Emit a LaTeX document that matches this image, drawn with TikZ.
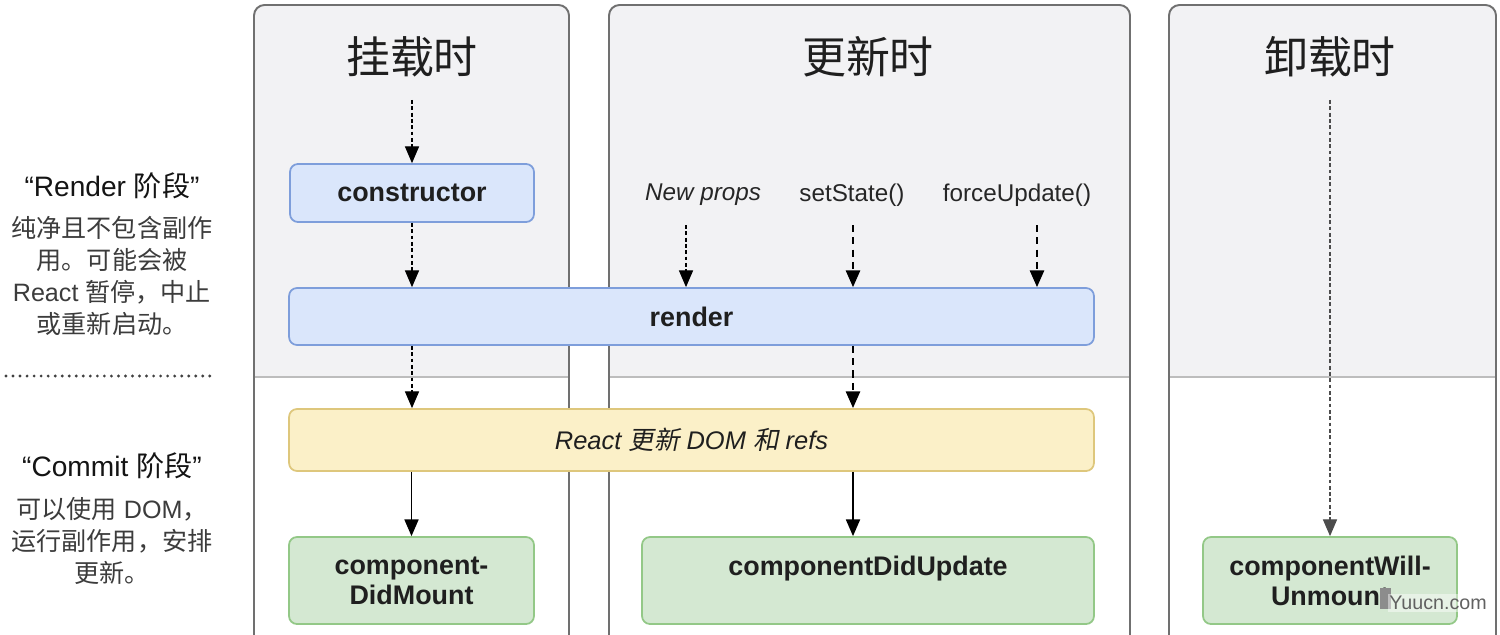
\documentclass[tikz,border=0pt]{standalone}
\usepackage{fontspec}
\setmainfont{Liberation Sans}
\newfontfamily\cjk{Noto Sans CJK SC}
\newfontfamily\cjkit[FakeSlant=0.2]{Noto Sans CJK SC}
\usetikzlibrary{arrows.meta}
\definecolor{panelbg}{HTML}{F2F2F4}
\definecolor{lanegray}{HTML}{707070}
\definecolor{sepgray}{HTML}{BDBDBD}
\definecolor{bluefill}{HTML}{DAE6FB}
\definecolor{blueline}{HTML}{7E9EDB}
\definecolor{yellowfill}{HTML}{FBF0C8}
\definecolor{yellowline}{HTML}{DEC77C}
\definecolor{greenfill}{HTML}{D4E8D2}
\definecolor{greenline}{HTML}{93C887}
\definecolor{notegray}{HTML}{3C3C3C}
\newcommand\mypanel[2]{%
  \fill[panelbg] (#1,377) [rounded corners=6pt] -- (#1,5) -- (#2,5) [sharp corners] -- (#2,377) -- cycle;
  \draw[sep] (#1,377) -- (#2,377);
  \draw[lane] (#1,640) [rounded corners=6pt] -- (#1,5) -- (#2,5) [sharp corners] -- (#2,640);
}
\tikzset{
  lane/.style={draw=lanegray, line width=1.1pt},
  sep/.style={draw=sepgray, line width=0.8pt},
  box/.style={rounded corners=4.5pt, line width=1pt, inner sep=0pt, align=center,
    font=\fontsize{15.3}{17}\selectfont\bfseries, text=black!88},
  bluebox/.style={box, fill=bluefill, draw=blueline},
  yellowbox/.style={box, fill=yellowfill, draw=yellowline, font=\fontsize{14.5}{17}\selectfont\itshape},
  greenbox/.style={box, fill=greenfill, draw=greenline},
  tip/.style={-{Triangle[length=9.5pt,width=8pt]}},
  thinflow/.style={tip, line width=0.6pt, dash pattern=on 2.2pt off 1.4pt},
  boldflow/.style={tip, line width=1.3pt, dash pattern=on 4pt off 3pt},
  solidflow/.style={tip, line width=0.9pt},
  title/.style={font=\cjk\fontsize{25}{30}\selectfont, text=black!88},
  trigger/.style={font=\fontsize{13.8}{16}\selectfont, text=black!85},
  phase/.style={font=\fontsize{16}{19}\selectfont, text=black!92},
  note/.style={font=\fontsize{14.3}{18.3}\selectfont, text=notegray, align=center},
}
\begin{document}
\begin{tikzpicture}[x=0.02cm, y=-0.02cm]
\useasboundingbox (0,0) rectangle (1500,635);
\fill[white] (0,0) rectangle (1500,635);

% lanes
\mypanel{254}{569}
\mypanel{609}{1130}
\mypanel{1169}{1496}

% titles
\node[title] (tmount) at (412,57) {挂载时};
\node[title] (tupdate) at (868,57) {更新时};
\node[title] (tunmount) at (1330,57) {卸载时};

% left notes
\node[phase] (renderphase) at (112,186) {“Render {\cjk 阶段}”};
\node[note] (rendernote) at (112,276) {{\cjk 纯净且不包含副作}\\{\cjk 用。可能会被}\\React {\cjk 暂停，中止}\\{\cjk 或重新启动。}};
\coordinate (dotL) at (6,376);
\coordinate (dotR) at (214,376);
\draw[line width=1.8pt, dash pattern=on 0pt off 4pt, line cap=round, black!75] (dotL) -- (dotR);
\node[phase] (commitphase) at (112,466) {“Commit {\cjk 阶段}”};
\node[note] (commitnote) at (112,541) {{\cjk 可以使用} DOM{\cjk ，}\\{\cjk 运行副作用，安排}\\{\cjk 更新。}};

% nodes
\node[bluebox, minimum width=4.88cm, minimum height=1.16cm] (constructor) at (412,193) {constructor};
\node[bluebox, minimum width=16.1cm, minimum height=1.14cm] (render) at (691.5,316.5) {render};
\node[yellowbox, minimum width=16.1cm, minimum height=1.24cm] (reactdom) at (691.5,440) {React {\cjkit 更新} DOM {\cjkit 和} refs};
\node[greenbox, minimum width=4.9cm, minimum height=1.74cm] (didmount) at (411.5,580.5) {component-\\DidMount};
\node[greenbox, minimum width=9.04cm, minimum height=1.74cm] (didupdate) at (868,580.5) {componentDidUpdate\\\phantom{D}};
\node[greenbox, minimum width=5.08cm, minimum height=1.74cm] (willunmount) at (1330,580.5) {componentWill-\\Unmount};

% triggers
\node[trigger, font=\fontsize{13.8}{16}\selectfont\itshape] (newprops) at (703,195) {New props};
\node[trigger] (setstate) at (852,195) {setState()};
\node[trigger] (forceupdate) at (1017,195) {forceUpdate()};

% connectors
\coordinate (mstart) at (412,100);
\draw[thinflow] (mstart) -- (constructor.north);
\draw[thinflow] (constructor.south) -- (constructor.south |- render.north);
\draw[thinflow] (constructor.south |- render.south) -- (constructor.south |- reactdom.north);
\draw[solidflow] (didmount.north |- reactdom.south) -- (didmount.north);

\coordinate (npstart) at (686,225);
\coordinate (ssstart) at (853,225);
\coordinate (fustart) at (1037,225);
\draw[thinflow] (npstart) -- (npstart |- render.north);
\draw[boldflow] (ssstart) -- (ssstart |- render.north);
\draw[boldflow] (fustart) -- (fustart |- render.north);
\draw[boldflow] (ssstart |- render.south) -- (ssstart |- reactdom.north);
\draw[solidflow] (ssstart |- reactdom.south) -- (ssstart |- didupdate.north);

\coordinate (ustart) at (1330,100);
\draw[thinflow, black!70] (ustart) -- (willunmount.north);

% watermark
\fill[black!45] (1380,588) rectangle (1391,609);
\node[fill=white, fill opacity=0.45, text opacity=1, text=black!62, inner sep=1pt,
  font=\fontsize{11.2}{12}\selectfont] (wm) at (1438,603) {Yuucn.com};
\end{tikzpicture}
\end{document}
